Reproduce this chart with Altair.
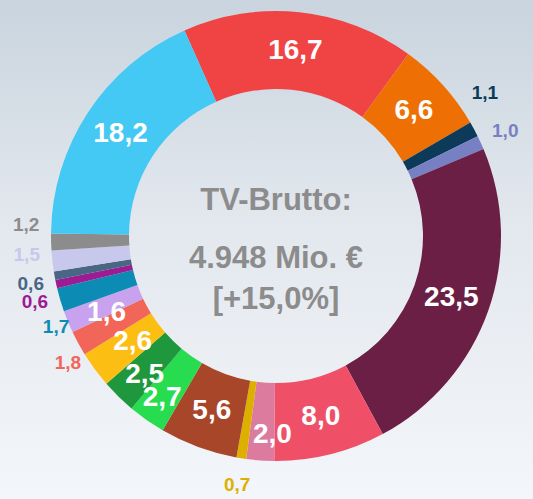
import altair as alt
import pandas as pd
import math

# Data (clockwise, starting at the red 16,7 slice)
categories = ["S01", "S02", "S03", "S04", "S05", "S06", "S07", "S08", "S09", "S10",
              "S11", "S12", "S13", "S14", "S15", "S16", "S17", "S18", "S19", "S20"]
values = [16.7, 6.6, 1.1, 1.0, 23.5, 8.0, 2.0, 0.7, 5.6, 2.7,
          2.5, 2.6, 1.8, 1.6, 1.7, 0.6, 0.6, 1.5, 1.2, 18.2]

# Styling / label layout (kept apart from the data)
colors = ["#F04444", "#EE7004", "#0E3A5A", "#7880C4", "#6B1F45", "#EF5068", "#DC7B9E",
          "#DDB000", "#A8462A", "#28DC50", "#1F973D", "#FDBE14", "#F2665A", "#C8A2EE",
          "#0C8CB4", "#9C1C94", "#496684", "#C8C8EC", "#8C8C8C", "#44C8F4"]
label_outside = [False, False, True, True, False, False, False, True, False, False,
                 False, False, True, False, True, True, True, True, True, False]
label_nudge_deg = [0, 0, -6, 0, 0, 0, -3, 0, 0, 0,
                   -1, 0, -3, -2, -6, -3, -1, 2, 4, 0]
label_radial_nudge = [0, 0, 3, 2, 0, 0, 13, 2, 0, 12,
                      5, -8, -6, 0, -12, 0, 0, 0, 0, 0]

center_title = "TV-Brutto:"
center_value = "4.948 Mio. €"
center_change = "[+15,0%]"

W, H = 533, 499
CX, CY = 276, 236
R_IN, R_OUT = 147, 225
START_DEG = -24.0

start = math.radians(START_DEG) + 2 * math.pi
theta_scale = alt.Scale(range=[start, start + 2 * math.pi])

df = pd.DataFrame({
    "cat": categories,
    "value": values,
    "idx": list(range(len(categories))),
    "outside": label_outside,
    "nudge": label_nudge_deg,
    "rnudge": label_radial_nudge,
})

font = "Liberation Sans"

bg = alt.Chart(pd.DataFrame({"a": [0]})).mark_rect(
    color=alt.Gradient(
        gradient="linear",
        stops=[alt.GradientStop(color="#C9D4DE", offset=0),
               alt.GradientStop(color="#E3E8EE", offset=0.45),
               alt.GradientStop(color="#F3F6FA", offset=1)],
        x1=0, x2=0, y1=0, y2=1,
    )
).encode(x=alt.value(0), x2=alt.value(W), y=alt.value(0), y2=alt.value(H))

base = alt.Chart(df).encode(
    theta=alt.Theta("value:Q", stack=True, scale=theta_scale),
    order=alt.Order("idx:Q"),
)

arcs = base.mark_arc(innerRadius=R_IN, outerRadius=R_OUT, strokeWidth=0).encode(
    color=alt.Color("cat:N", scale=alt.Scale(domain=categories, range=colors), legend=None),
    x=alt.value(CX), y=alt.value(CY),
)

lab = alt.Chart(df).transform_window(
    cum="sum(value)", sort=[alt.SortField("idx")], frame=[None, 0]
).transform_joinaggregate(total="sum(value)").transform_calculate(
    mid="(datum.cum - datum.value/2) / datum.total * 2 * PI + " + repr(math.radians(START_DEG)) + " + datum.nudge * PI / 180",
    r="(datum.outside ? 250 : 186) + datum.rnudge",
    lx=str(CX) + " + datum.r * sin(datum.mid)",
    ly=str(CY) + " - datum.r * cos(datum.mid)",
    label="replace(format(datum.value, '.1f'), '.', ',')",
)

xs = alt.X("lx:Q", scale=alt.Scale(domain=[0, W]), axis=None)
ys = alt.Y("ly:Q", scale=alt.Scale(domain=[H, 0]), axis=None)

inside_labels = lab.transform_filter("!datum.outside").mark_text(
    font=font, fontWeight="bold", fontSize=28, color="white", baseline="middle", align="center"
).encode(x=xs, y=ys, text="label:N")

outside_labels = lab.transform_filter("datum.outside").mark_text(
    font=font, fontWeight="bold", fontSize=19, baseline="middle", align="center"
).encode(
    x=xs, y=ys, text="label:N",
    color=alt.Color("cat:N", scale=alt.Scale(domain=categories, range=colors), legend=None),
)

def center_text(t, ypix):
    return alt.Chart(pd.DataFrame({"t": [t]})).mark_text(
        font=font, fontWeight="bold", fontSize=31, color="#8C8C8C",
        baseline="middle", align="center"
    ).encode(text="t:N", x=alt.value(CX), y=alt.value(ypix))

chart = alt.layer(
    bg, arcs, inside_labels, outside_labels,
    center_text(center_title, 201), center_text(center_value, 259), center_text(center_change, 300),
).properties(
    width=W, height=H, padding=0, autosize=alt.AutoSizeParams(type="none")
).configure_view(stroke=None).configure(background="#E8ECF0")

chart.save("out.html", embed_options={"renderer": "svg", "actions": False})
